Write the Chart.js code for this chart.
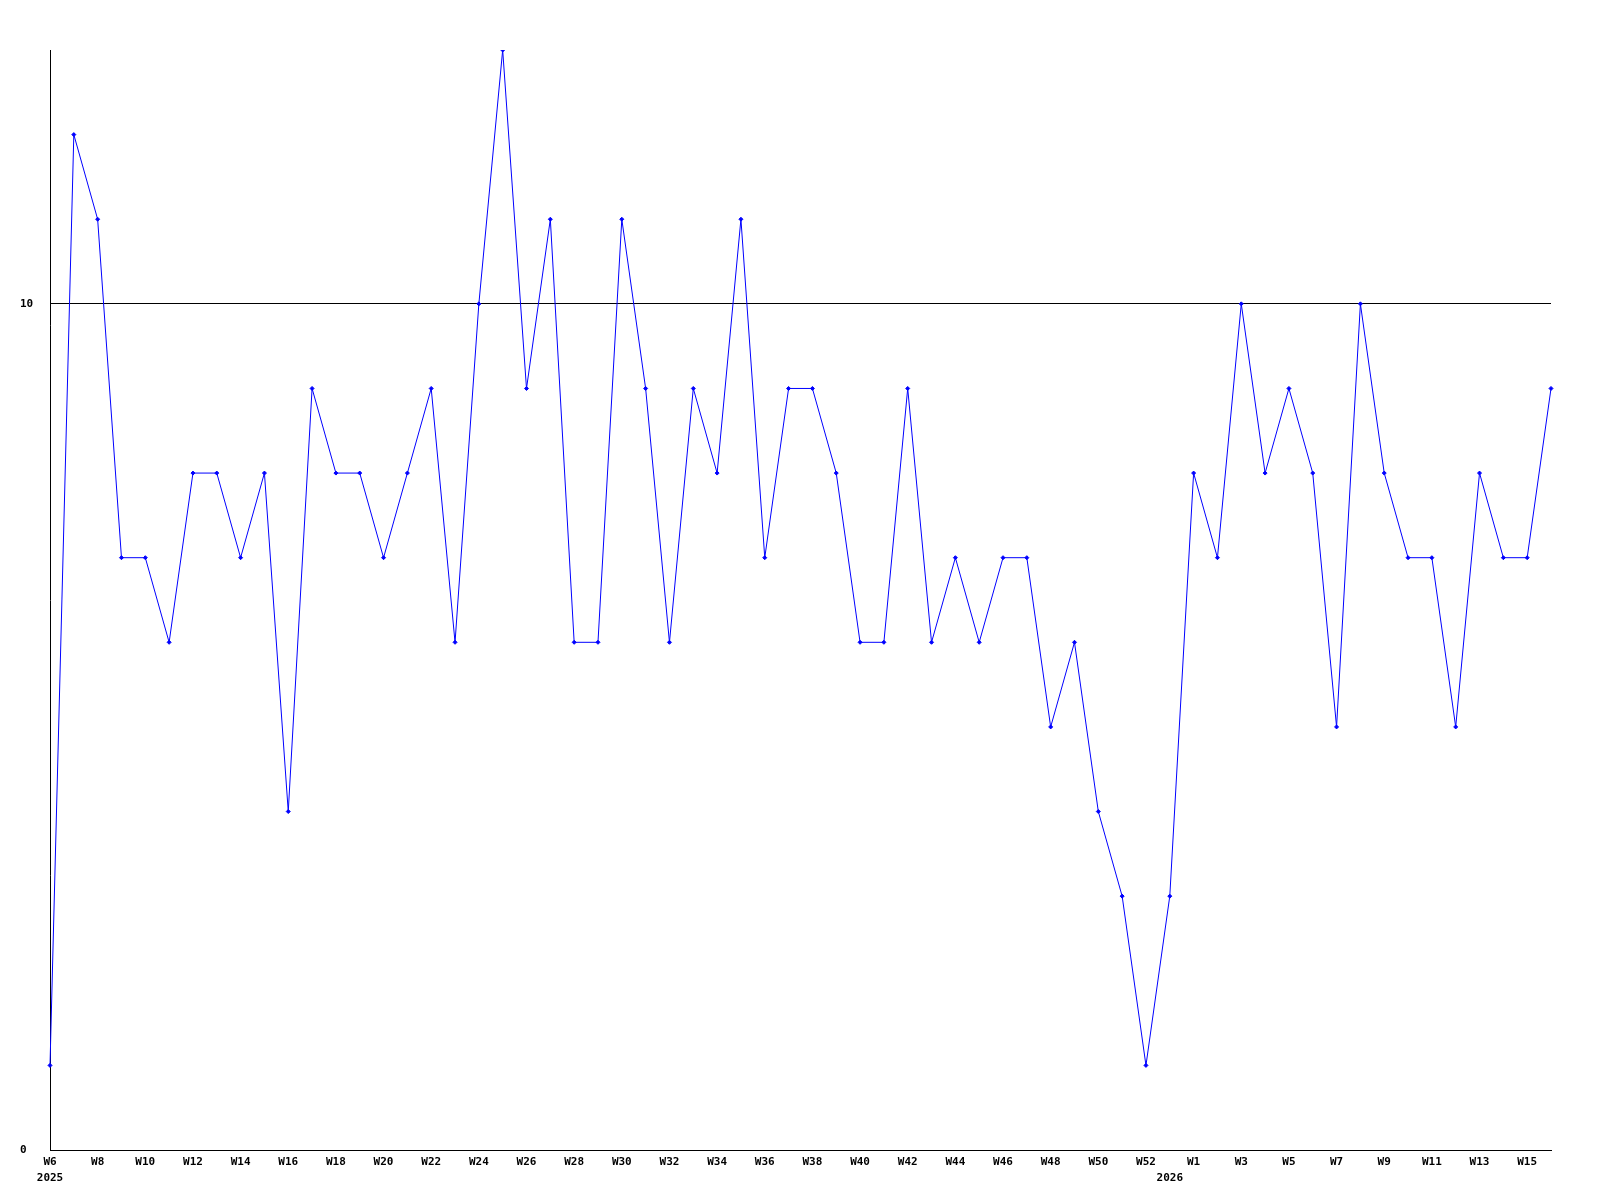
<!DOCTYPE html>
<html>
<head>
<meta charset="utf-8">
<script src="https://cdn.jsdelivr.net/npm/chart.js@4/dist/chart.umd.min.js"></script>
<style>
  html, body { margin: 0; padding: 0; background: #fff; }
  #wrap { width: 1600px; height: 1200px; }
</style>
</head>
<body>
<div id="wrap"><canvas id="chart"></canvas></div>
<script>
// week labels, one per point (index 47 is the year-boundary week)
const weekLabels = [
    "W6", "W7", "W8", "W9", "W10", "W11", "W12", "W13", "W14", "W15",
    "W16", "W17", "W18", "W19", "W20", "W21", "W22", "W23", "W24", "W25",
    "W26", "W27", "W28", "W29", "W30", "W31", "W32", "W33", "W34", "W35",
    "W36", "W37", "W38", "W39", "W40", "W41", "W42", "W43", "W44", "W45",
    "W46", "W47", "W48", "W49", "W50", "W51", "W52", "W53",
    "W1", "W2", "W3", "W4", "W5", "W6", "W7", "W8", "W9", "W10",
    "W11", "W12", "W13", "W14", "W15", "W16"
];
const yearStarts = [0, 47];
const yearNames = ["2025", "2026"];

const counts = [
    1, 12, 11, 7, 7, 6, 8, 8, 7, 8,
    4, 9, 8, 8, 7, 8, 9, 6, 10, 13,
    9, 11, 6, 6, 11, 9, 6, 9, 8, 11,
    7, 9, 9, 8, 6, 6, 9, 6, 7, 6,
    7, 7, 5, 6, 4, 3, 1, 3,
    8, 7, 10, 8, 9, 8, 5, 10, 8, 7,
    7, 5, 8, 7, 7, 9
];

const yTicks = [0, 10];

const tickFont = { family: "'DejaVu Sans Mono', monospace", size: 11, weight: "bold", lineHeight: "16px" };

const config = {
    type: "line",
    data: {
        labels: weekLabels,
        datasets: [
            {
                data: counts,
                borderColor: "#0000ff",
                backgroundColor: "#0000ff",
                borderWidth: 1,
                tension: 0,
                pointStyle: "rectRot",
                pointRadius: 2,
                pointBorderWidth: 1,
                pointHoverRadius: 2
            }
        ]
    },
    options: {
        responsive: true,
        maintainAspectRatio: false,
        animation: false,
        layout: {
            padding: { left: 20, right: 49, top: 50, bottom: 0 }
        },
        plugins: {
            legend: { display: false },
            tooltip: { enabled: false }
        },
        scales: {
            x: {
                offset: false,
                grid: { display: false, drawTicks: false },
                border: { display: true, color: "#000", width: 1 },
                ticks: {
                    autoSkip: false,
                    maxRotation: 0,
                    padding: 4,
                    color: "#000",
                    font: tickFont,
                    callback: (value, index) => {
                        const week = index % 2 === 0 ? weekLabels[index] : "";
                        const yi = yearStarts.indexOf(index);
                        return yi >= 0 ? [week, yearNames[yi]] : week;
                    }
                },
                afterFit: (scale) => { scale.height = 50; }
            },
            y: {
                min: 0,
                max: 13,
                grid: { color: "#000", lineWidth: 1, drawTicks: false },
                border: { display: true, color: "#000", width: 1 },
                ticks: {
                    crossAlign: "far",
                    color: "#000",
                    font: tickFont
                },
                afterBuildTicks: (scale) => {
                    scale.ticks = yTicks.map((v) => ({ value: v }));
                },
                afterFit: (scale) => { scale.width = 30; }
            }
        }
    }
};

new Chart(document.getElementById("chart"), config);
</script>
</body>
</html>
